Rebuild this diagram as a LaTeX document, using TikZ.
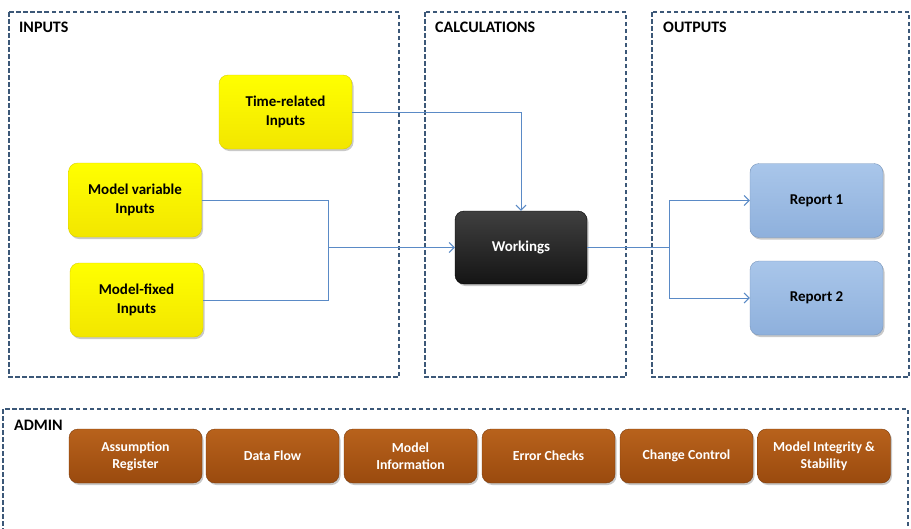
\documentclass[tikz,border=0pt]{standalone}
\usepackage{fontspec}
\setmainfont{Carlito}
\usetikzlibrary{arrows.meta,shadows}
\definecolor{grpcol}{HTML}{3C5878}
\definecolor{linecol}{HTML}{5A8AC6}
\definecolor{ylw}{HTML}{FFFF00}
\definecolor{ylwdk}{HTML}{F2E600}
\definecolor{blu}{HTML}{A9C6EA}
\definecolor{bludk}{HTML}{8EB0DC}
\definecolor{brn}{HTML}{B8621C}
\definecolor{brndk}{HTML}{9A4A0E}
\begin{document}
\begin{tikzpicture}[x=1pt,y=-1pt,
  grp/.style={draw=grpcol,line width=1.4pt,dash pattern=on 4.5pt off 2.5pt},
  grplabel/.style={anchor=west,font=\fontsize{16}{18}\selectfont\bfseries,text=black,inner sep=0pt},
  basebox/.style={rounded corners=9pt,align=center,font=\fontsize{15}{19}\selectfont\bfseries,
    drop shadow={shadow xshift=1.5pt,shadow yshift=-2pt,opacity=0.35,fill=black!60},inner sep=2pt},
  inbox/.style={basebox,minimum width=133pt,minimum height=74pt,top color=ylw,bottom color=ylwdk,draw=ylwdk!90!black,line width=0.4pt,text=black},
  wkbox/.style={basebox,minimum width=132pt,minimum height=73pt,top color=black!75,bottom color=black!92,draw=black,text=white},
  outbox/.style={basebox,minimum width=133pt,minimum height=74pt,top color=blu,bottom color=bludk,draw=bludk!85!black,line width=0.4pt,text=black},
  admbox/.style={basebox,minimum width=133pt,minimum height=54pt,top color=brn,bottom color=brndk,draw=brndk!80!black,line width=0.4pt,text=white,font=\fontsize{13.8}{17}\selectfont\bfseries},
  conn/.style={draw=linecol,line width=1pt},
  arr/.style={conn,-{Straight Barb[length=5pt,width=10pt]}}
]
\clip (0,0) rectangle (911,528);
\fill[white] (0,0) rectangle (911,528);

% groups
\draw[grp] (9,12) rectangle (399,377);
\draw[grp] (425,12) rectangle (626,377);
\draw[grp] (652,12) rectangle (909,377);
\draw[grp] (3,409) rectangle (908,540);
\node[grplabel] (lin) at (19,27) {INPUTS};
\node[grplabel] (lcalc) at (435,27) {CALCULATIONS};
\node[grplabel] (lout) at (663,27) {OUTPUTS};
\node[grplabel] (ladm) at (14,425) {ADMIN};

% nodes
\node[inbox] (tr) at (285.5,112) {Time-related\\Inputs};
\node[inbox] (mv) at (135,200) {Model variable\\Inputs};
\node[inbox] (mf) at (136.5,300) {Model-fixed\\Inputs};
\node[wkbox] (wk) at (521,247.5) {Workings};
\node[outbox] (r1) at (816.5,200.5) {Report 1};
\node[outbox] (r2) at (816.5,298) {Report 2};

\node[admbox] (a1) at (135.5,456) {Assumption\\Register};
\node[admbox] (a2) at (272.5,456) {Data Flow};
\node[admbox] (a3) at (410.5,456) {Model\\Information};
\node[admbox] (a4) at (548.5,456) {Error Checks};
\node[admbox] (a5) at (686.5,456) {Change Control};
\node[admbox] (a6) at (824,456) {Model Integrity \&\\Stability};

% connectors
\coordinate (jn) at (328,247.5);
\coordinate (sp) at (669,247.5);
\draw[arr] (tr.east) -| (wk.north);
\draw[conn] (mv.east) -| (jn);
\draw[conn] (mf.east) -| (jn);
\draw[arr] (jn) -- (wk.west);
\draw[conn] (wk.east) -- (sp);
\draw[arr] (sp) |- (r1.west);
\draw[arr] (sp) |- (r2.west);
\end{tikzpicture}
\end{document}
